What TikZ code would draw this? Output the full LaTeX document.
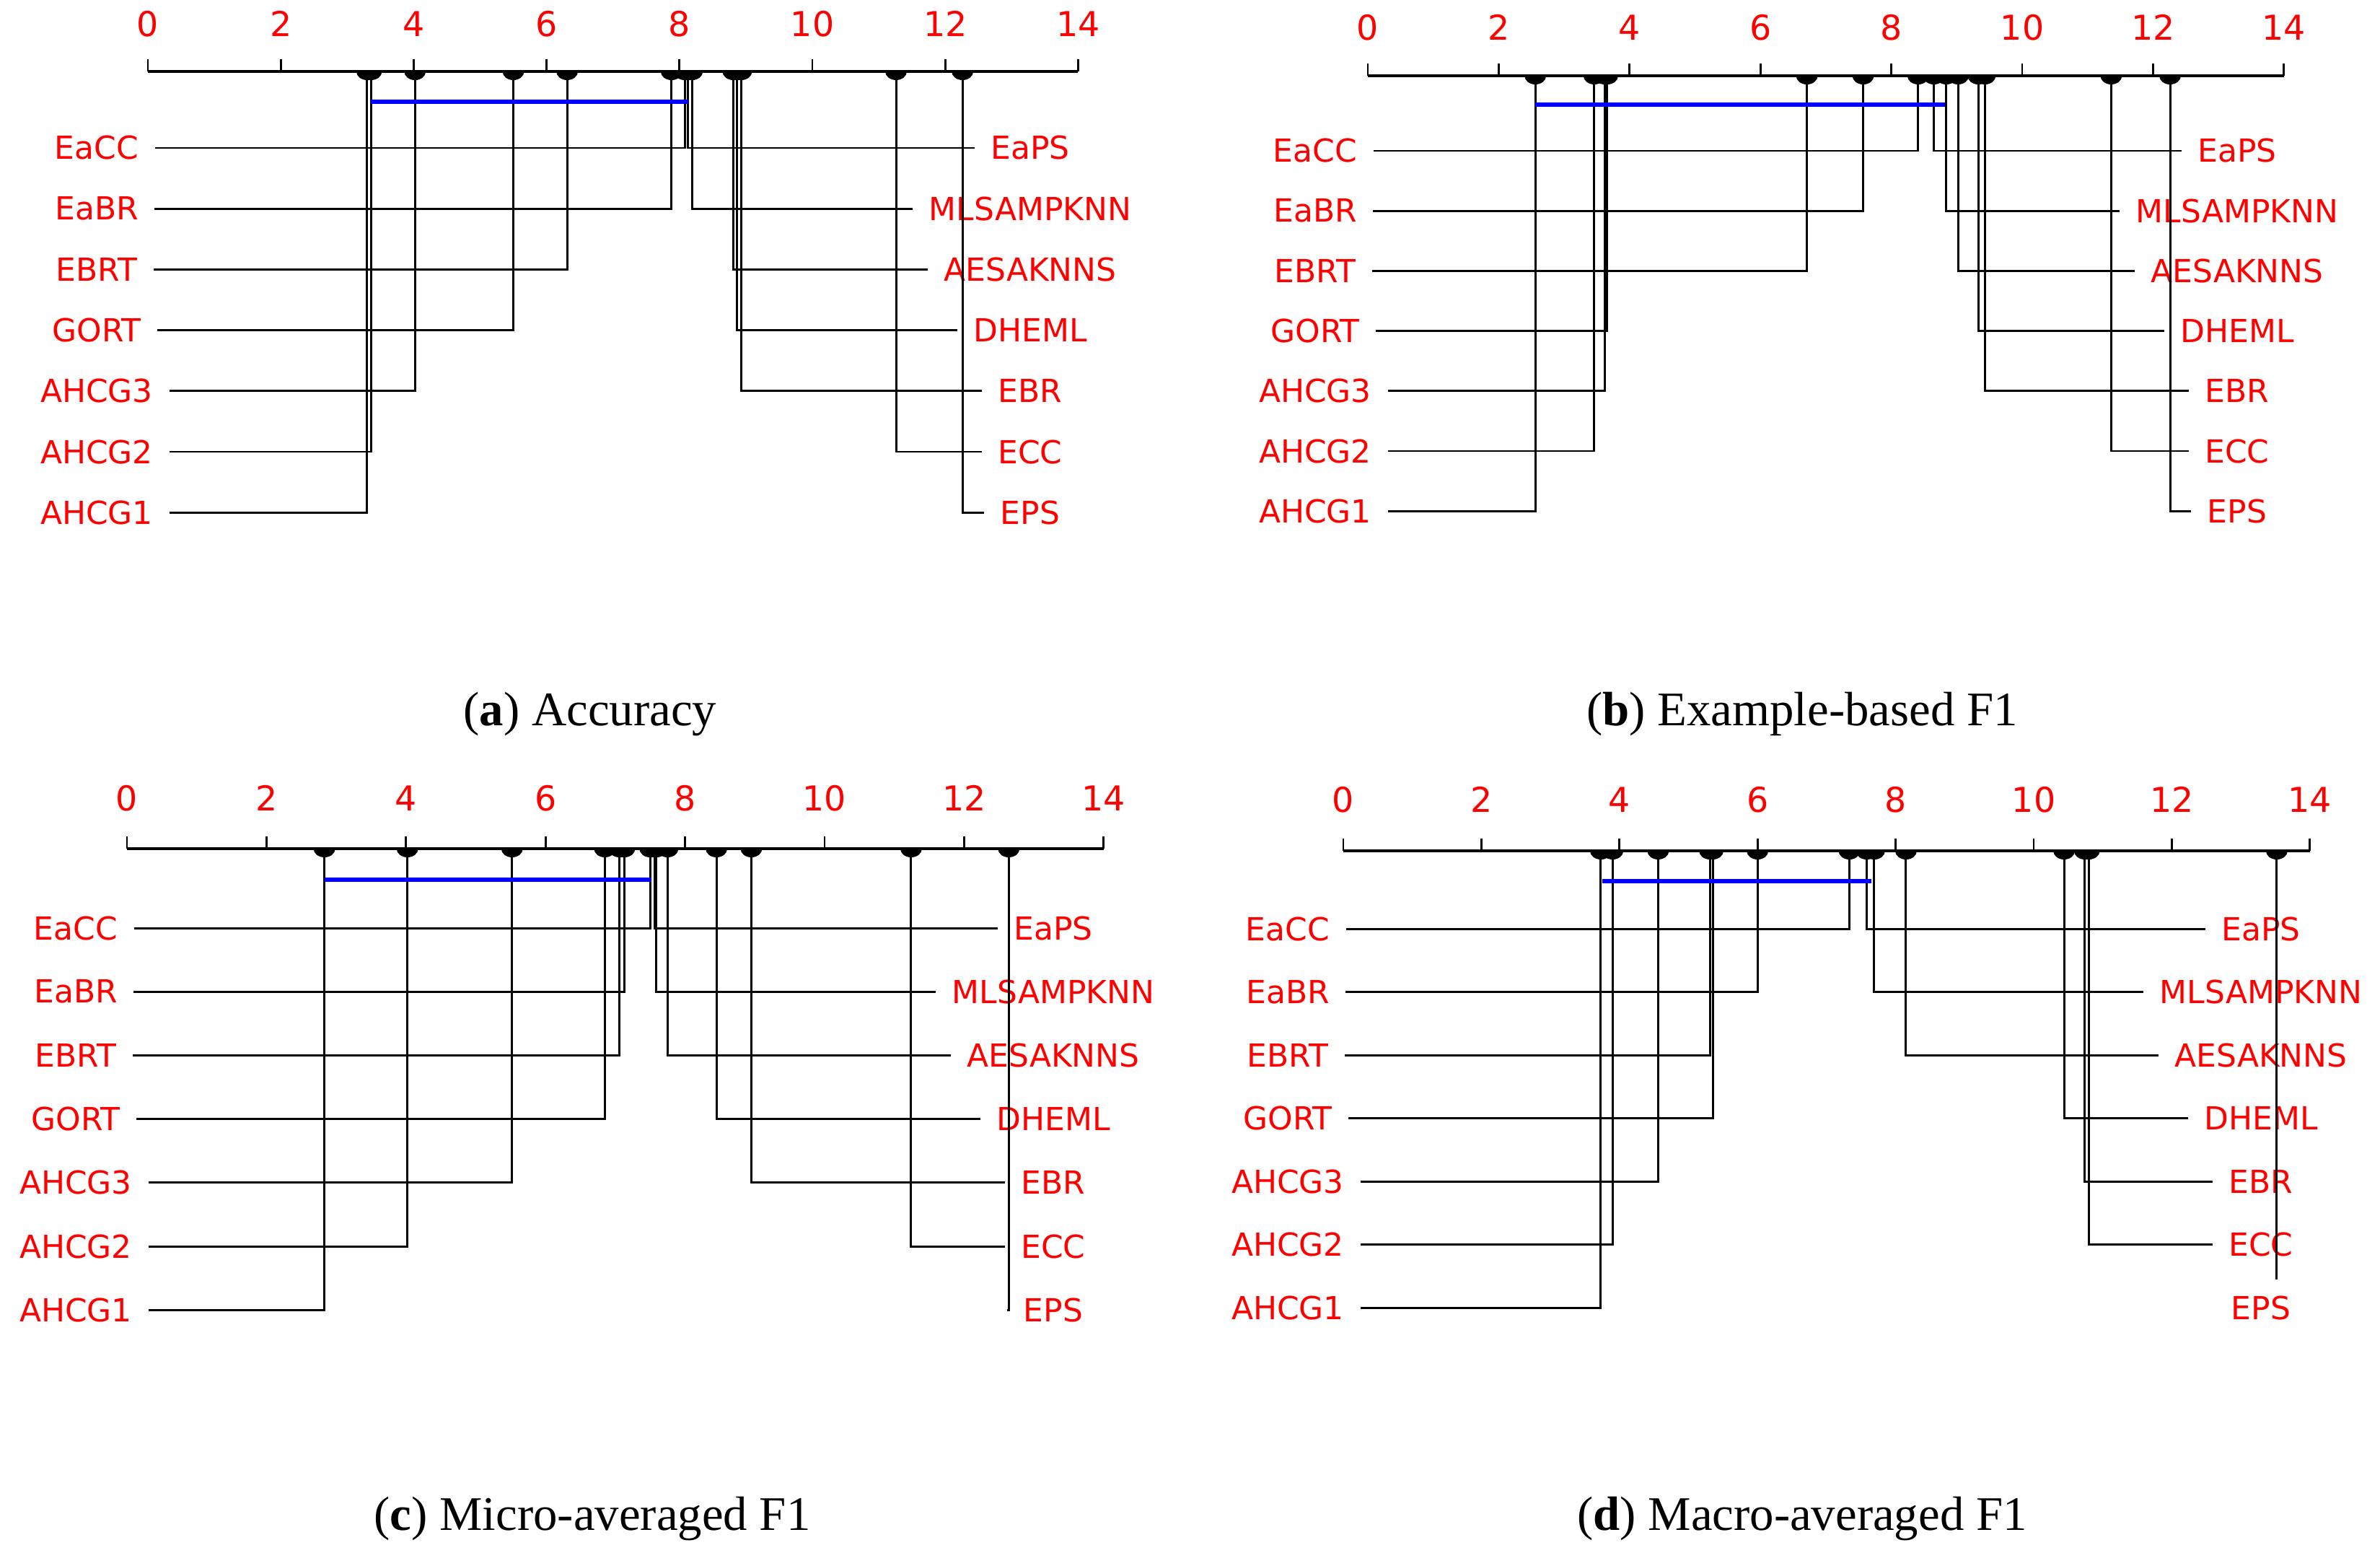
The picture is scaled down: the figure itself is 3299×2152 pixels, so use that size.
\documentclass[tikz,border=0pt]{standalone}
\usepackage{fontspec}
\setmainfont{Liberation Serif}
\newfontfamily\plotfont{DejaVu Sans}
\usepackage{xcolor}
\usetikzlibrary{calc}
\tikzset{
  AxisLine/.style={line width=1.2pt},
  AxisTick/.style={line width=0.8pt},
  LinkLine/.style={line width=0.85pt},
  CDBar/.style={blue,line width=1.8pt},
  TickLabel/.style={red,font=\plotfont\fontsize{13.5}{15}\selectfont,inner sep=0},
  MethodLabel/.style={red,font=\plotfont\fontsize{12.5}{14}\selectfont,inner sep=0.22cm},
  Caption/.style={font=\fontsize{19}{22}\selectfont,anchor=base,inner sep=0},
}
% one critical difference panel; parameters come from \zx \ux \ay \by \tly \lx \rx \ry \rs
\newcommand{\CDPanel}[5]{
  \draw[AxisLine] (\zx,\ay) -- (\zx+14*\ux,\ay);
  \foreach \t in {0,2,...,14}{
    \draw[AxisTick] (\zx+\t*\ux,\ay) -- ++(0,-17);
    \node[TickLabel] (#1-tick\t) at (\zx+\t*\ux,\tly) {\t};
  }
  \foreach \nm/\rk [count=\i from 0] in {#2}{
    \node[MethodLabel] (#1-L\i) at (\lx,\ry+\i*\rs) {\nm};
    \coordinate (#1-l\i) at (\zx+\rk*\ux,\ay);
    \draw[LinkLine] (#1-L\i.east) -| (#1-l\i);
    \fill (#1-l\i) ++(-15,0) arc[start angle=180,end angle=0,x radius=15,y radius=12];
  }
  \foreach \nm/\rk/\md [count=\i from 0] in {#3}{
    \node[MethodLabel] (#1-R\i) at (\rx,\ry+\i*\rs) {\nm};
    \coordinate (#1-r\i) at (\zx+\rk*\ux,\ay);
    \ifnum\md=0
      \draw[LinkLine] (#1-r\i) |- (#1-R\i.west);
    \else
      \draw[LinkLine] (#1-r\i) -- (#1-r\i |- #1-R\i.north);
    \fi
    \fill (#1-r\i) ++(-15,0) arc[start angle=180,end angle=0,x radius=15,y radius=12];
  }
  \draw[CDBar] (\zx+#4*\ux,\by) coordinate (#1-cdl) -- (\zx+#5*\ux,\by) coordinate (#1-cdr);
}

\begin{document}
\begin{tikzpicture}[x=0.01cm,y=-0.01cm]
  \useasboundingbox (0,0) rectangle (3299,2152);

  % (a) Accuracy
  \def\zx{205}\def\ux{92.1}\def\ay{99}\def\by{141}\def\tly{33}
  \def\lx{134}\def\rx{1428}\def\ry{205}\def\rs{84.2}
  \CDPanel{acc}{EaCC/8.08,EaBR/7.88,EBRT/6.31,GORT/5.50,AHCG3/4.02,AHCG2/3.36,AHCG1/3.30}
    {EaPS/8.13/0,MLSAMPKNN/8.19/0,AESAKNNS/8.81/0,DHEML/8.87/0,EBR/8.93/0,ECC/11.26/0,EPS/12.26/0}{3.36}{8.13}
  \node[Caption] (cap-a) at (818,1005) {(\textbf{a}) Accuracy};

  % (b) Example-based F1
  \def\zx{1896}\def\ux{90.7}\def\ay{105}\def\by{145}\def\tly{38}
  \def\lx{1823}\def\rx{3101}\def\ry{209}\def\rs{83.2}
  \CDPanel{ebf}{EaCC/8.41,EaBR/7.57,EBRT/6.71,GORT/3.66,AHCG3/3.62,AHCG2/3.46,AHCG1/2.56}
    {EaPS/8.65/0,MLSAMPKNN/8.84/0,AESAKNNS/9.02/0,DHEML/9.33/0,EBR/9.43/0,ECC/11.36/0,EPS/12.26/0}{2.56}{8.82}
  \node[Caption] (cap-b) at (2498,1005) {(\textbf{b}) Example-based F1};

  % (c) Micro-averaged F1
  \def\zx{176}\def\ux{96.7}\def\ay{1176}\def\by{1219}\def\tly{1106}
  \def\lx{105}\def\rx{1460}\def\ry{1286}\def\rs{88.2}
  \CDPanel{mic}{EaCC/7.50,EaBR/7.13,EBRT/7.06,GORT/6.85,AHCG3/5.52,AHCG2/4.02,AHCG1/2.83}
    {EaPS/7.56/0,MLSAMPKNN/7.59/0,AESAKNNS/7.75/0,DHEML/8.45/0,EBR/8.95/0,ECC/11.24/0,EPS/12.64/0}{2.83}{7.52}
  \node[Caption] (cap-c) at (821,2120) {(\textbf{c}) Micro-averaged F1};

  % (d) Macro-averaged F1
  \def\zx{1862}\def\ux{95.7}\def\ay{1179}\def\by{1221}\def\tly{1108}
  \def\lx{1785}\def\rx{3134}\def\ry{1287}\def\rs{87.5}
  \CDPanel{mac}{EaCC/7.33,EaBR/6.00,EBRT/5.31,GORT/5.35,AHCG3/4.56,AHCG2/3.90,AHCG1/3.73}
    {EaPS/7.58/0,MLSAMPKNN/7.69/0,AESAKNNS/8.15/0,DHEML/10.44/0,EBR/10.74/0,ECC/10.80/0,EPS/13.52/1}{3.75}{7.65}
  \node[Caption] (cap-d) at (2498,2120) {(\textbf{d}) Macro-averaged F1};
\end{tikzpicture}
\end{document}
